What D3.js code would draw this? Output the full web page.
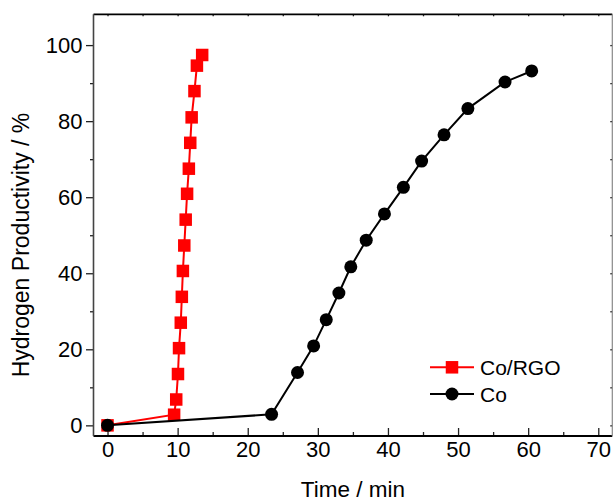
<!DOCTYPE html>
<html>
<head>
<meta charset="utf-8">
<script src="https://cdn.jsdelivr.net/npm/d3@7"></script>
<style>
  body { margin: 0; background: #fff; }
  svg { display: block; font-family: Arial, "Liberation Sans", sans-serif; }
</style>
</head>
<body>
<script>
// data
var rgoTime  = [0, 9.5, 9.8, 10.05, 10.2, 10.45, 10.6, 10.75, 10.95, 11.15, 11.35, 11.6, 11.8, 12.0, 12.4, 12.75, 13.5];
var rgoValue = [0, 2.8, 6.8, 13.5, 20.3, 27.0, 33.8, 40.6, 47.3, 54.1, 60.9, 67.5, 74.3, 81.0, 87.9, 94.6, 97.4];
var coTime   = [0, 23.4, 27.1, 29.4, 31.2, 33.0, 34.7, 36.9, 39.5, 42.2, 44.8, 48.0, 51.4, 56.7, 60.5];
var coValue  = [0, 2.9, 13.9, 20.9, 27.8, 34.8, 41.7, 48.7, 55.6, 62.6, 69.5, 76.4, 83.3, 90.3, 93.2];
var seriesNames = ["Co/RGO", "Co"];
var xTicks = [0, 10, 20, 30, 40, 50, 60, 70];
var xMinor = [5, 15, 25, 35, 45, 55, 65];
var yTicks = [0, 20, 40, 60, 80, 100];
var yMinor = [10, 30, 50, 70, 90];

var W = 613, H = 502;
var pLeft = 93.5, pRight = 612.3, pTop = 14.3, pBottom = 436;

var svg = d3.select("body")
  .append("svg")
    .attr("width", W)
    .attr("height", H);

var x = d3.scaleLinear().domain([-2, 72]).range([pLeft, pRight]);
var y = d3.scaleLinear().domain([-2.8, 108.1]).range([pBottom, pTop]);

// bottom axis, ticks pointing in
svg.append("g")
    .attr("transform", "translate(0," + pBottom + ")")
    .call(d3.axisBottom(x).tickValues(xTicks).tickSizeInner(-8).tickSizeOuter(0).tickPadding(5.5));
svg.append("g")
    .attr("transform", "translate(0," + pBottom + ")")
    .call(d3.axisBottom(x).tickValues(xMinor).tickSizeInner(-4).tickSizeOuter(0).tickFormat(""));

// left axis, ticks pointing out
svg.append("g")
    .attr("transform", "translate(" + pLeft + ",0)")
    .call(d3.axisLeft(y).tickValues(yTicks).tickSizeInner(7.5).tickSizeOuter(0).tickPadding(3.5));
svg.append("g")
    .attr("transform", "translate(" + pLeft + ",0)")
    .call(d3.axisLeft(y).tickValues(yMinor).tickSizeInner(3.5).tickSizeOuter(0).tickFormat(""));

// top and right, small inner ticks
svg.append("g")
    .attr("transform", "translate(0," + pTop + ")")
    .call(d3.axisTop(x).tickValues(xTicks.concat(xMinor)).tickSizeInner(-2).tickSizeOuter(0).tickFormat(""));
svg.append("g")
    .attr("transform", "translate(" + pRight + ",0)")
    .call(d3.axisRight(y).tickValues(yTicks.concat(yMinor)).tickSizeInner(-2).tickSizeOuter(0).tickFormat(""));

svg.selectAll(".domain").remove();
svg.selectAll(".tick line").attr("stroke", "#222").attr("stroke-width", 1.3);
svg.selectAll(".tick text").attr("fill", "#000").style("font-size", "22px");

// frame
svg.append("line").attr("x1", pLeft).attr("x2", pRight).attr("y1", pBottom).attr("y2", pBottom)
    .attr("stroke", "#000").attr("stroke-width", 1.8);
svg.append("line").attr("x1", pLeft).attr("x2", pRight).attr("y1", pTop).attr("y2", pTop)
    .attr("stroke", "#000").attr("stroke-width", 1.8);
svg.append("line").attr("x1", pLeft).attr("x2", pLeft).attr("y1", pTop).attr("y2", pBottom)
    .attr("stroke", "#444").attr("stroke-width", 1.6);
svg.append("line").attr("x1", pRight).attr("x2", pRight).attr("y1", pTop).attr("y2", pBottom)
    .attr("stroke", "#888").attr("stroke-width", 1.2);

var line = d3.line()
    .x(function(d) { return x(d[0]); })
    .y(function(d) { return y(d[1]); });

var rgo = d3.zip(rgoTime, rgoValue);
var co = d3.zip(coTime, coValue);
var sq = 12.5, cr = 6.5;

// Co/RGO (red squares)
svg.append("path")
    .datum(rgo)
    .attr("d", line)
    .attr("fill", "none")
    .attr("stroke", "#ff0000")
    .attr("stroke-width", 2);
svg.append("g")
  .selectAll("rect")
  .data(rgo)
  .enter()
  .append("rect")
    .attr("x", function(d) { return x(d[0]) - sq / 2; })
    .attr("y", function(d) { return y(d[1]) - sq / 2; })
    .attr("width", sq)
    .attr("height", sq)
    .attr("fill", "#ff0000");

// Co (black circles)
svg.append("path")
    .datum(co)
    .attr("d", line)
    .attr("fill", "none")
    .attr("stroke", "#000")
    .attr("stroke-width", 2);
svg.append("g")
  .selectAll("circle")
  .data(co)
  .enter()
  .append("circle")
    .attr("cx", function(d) { return x(d[0]); })
    .attr("cy", function(d) { return y(d[1]); })
    .attr("r", cr)
    .attr("fill", "#000");

// legend
var legend = svg.append("g");
var rows = [
  {name: seriesNames[0], color: "#ff0000", shape: "square", ly: 367.3},
  {name: seriesNames[1], color: "#000", shape: "circle", ly: 394}
];
rows.forEach(function(r) {
  legend.append("line")
      .attr("x1", 430).attr("x2", 474)
      .attr("y1", r.ly).attr("y2", r.ly)
      .attr("stroke", r.color).attr("stroke-width", 2);
  if (r.shape == "square") {
    legend.append("rect")
        .attr("x", 452 - sq / 2).attr("y", r.ly - sq / 2)
        .attr("width", sq).attr("height", sq)
        .attr("fill", r.color);
  } else {
    legend.append("circle")
        .attr("cx", 452).attr("cy", r.ly).attr("r", cr)
        .attr("fill", r.color);
  }
  legend.append("text")
      .attr("x", 480)
      .attr("y", r.ly)
      .attr("dy", "0.36em")
      .style("font-size", "21px")
      .text(r.name);
});

// axis titles
svg.append("text")
    .attr("x", (pLeft + pRight) / 2)
    .attr("y", 496.5)
    .attr("text-anchor", "middle")
    .style("font-size", "22.5px")
    .text("Time / min");

svg.append("text")
    .attr("transform", "translate(28.5,245) rotate(-90)")
    .attr("text-anchor", "middle")
    .style("font-size", "23px")
    .text("Hydrogen Productivity / %");
</script>
</body>
</html>
